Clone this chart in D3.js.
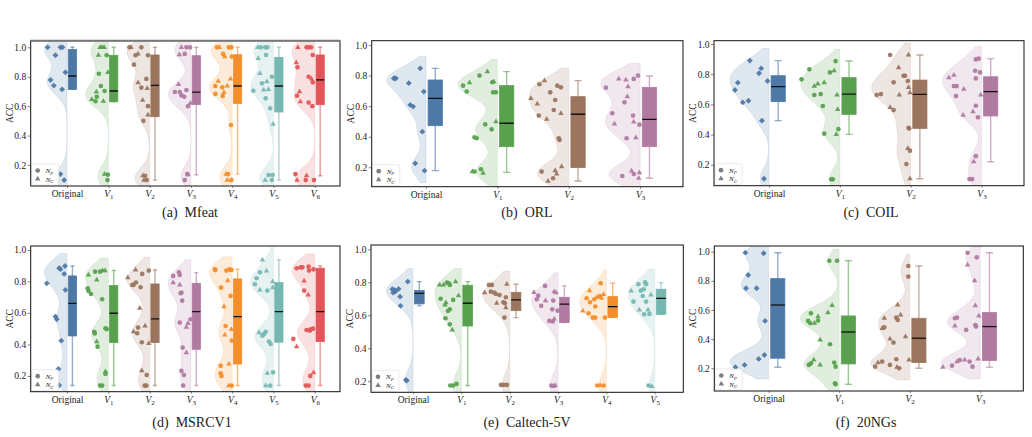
<!DOCTYPE html>
<meta charset="utf-8" />
<script src="https://d3js.org/d3.v7.min.js"></script>
<style>
  body { margin: 0; background: #fff; }
  svg text { font-family: 'Liberation Serif', 'Times New Roman', serif; fill: #222; }
</style>
<div id="chart"></div>
<script>
  // each point: [ACC, marker (0 circle N_P, 1 triangle N_C, 2 diamond), jitter]
  // each box: [low whisker, q1, median, q3, high whisker]
  const mfeatPts = [
    [[1.0,2,-0.47],[0.946,2,-0.28],[1.0,2,-0.16],[1.0,2,-0.11],[0.83,2,-0.04],[0.778,2,-0.4],[0.74,2,-0.32],[0.714,2,-0.12],[0.138,2,-0.16],[0.097,2,-0.07]],
    [[1.0,1,-0.2],[1.0,1,-0.15],[1.0,1,-0.1],[0.946,1,-0.24],[0.946,0,-0.04],[0.82,0,-0.23],[0.83,1,-0.01],[0.737,0,-0.18],[0.696,1,-0.29],[0.703,0,-0.09],[0.664,0,-0.28],[0.646,1,-0.4],[0.633,0,-0.31],[0.633,1,-0.12],[0.138,1,-0.09],[0.134,0,-0.01],[0.097,0,-0.02]],
    [[1.0,0,-0.49],[1.0,1,-0.45],[1.0,0,-0.2],[0.955,1,-0.28],[0.946,0,-0.34],[0.946,0,-0.04],[0.882,0,-0.38],[0.76,1,-0.28],[0.785,0,-0.08],[0.726,0,-0.2],[0.72,1,-0.06],[0.64,1,-0.17],[0.6,0,-0.04],[0.54,1,-0.04],[0.5,0,-0.15],[0.127,1,-0.16],[0.127,0,-0.11],[0.097,1,-0.14],[0.097,0,-0.07]],
    [[1.0,1,-0.23],[1.0,0,-0.11],[1.0,0,-0.02],[0.955,0,-0.15],[0.95,1,-0.28],[0.748,1,-0.3],[0.696,0,-0.39],[0.696,0,-0.27],[0.71,0,-0.11],[0.673,0,-0.23],[0.664,0,-0.16],[0.6,0,-0.07],[0.62,1,-0.01],[0.138,0,-0.09],[0.134,1,-0.07],[0.097,0,-0.15]],
    [[1.0,0,-0.37],[1.0,1,-0.31],[1.0,0,-0.08],[1.0,0,-0.02],[0.955,0,-0.22],[0.937,1,-0.18],[0.937,0,-0.01],[0.737,0,-0.41],[0.77,1,-0.34],[0.785,1,-0.04],[0.728,0,-0.24],[0.737,1,-0.12],[0.683,0,-0.41],[0.694,1,-0.2],[0.669,0,-0.23],[0.472,0,-0.03],[0.138,1,-0.15],[0.138,0,-0.1],[0.097,1,-0.12],[0.097,0,-0.02]],
    [[1.0,1,-0.38],[1.0,0,-0.31],[1.0,0,-0.2],[1.0,0,-0.15],[0.948,0,-0.18],[0.925,1,-0.37],[0.823,1,-0.33],[0.8,0,-0.04],[0.766,1,-0.16],[0.755,0,-0.28],[0.714,1,-0.12],[0.71,1,-0.24],[0.705,0,-0.49],[0.653,0,-0.19],[0.585,0,-0.08],[0.478,1,-0.01],[0.131,0,-0.12],[0.131,0,-0.02],[0.097,1,-0.2],[0.097,0,-0.04]],
    [[1.0,1,-0.41],[1.0,0,-0.2],[1.0,0,-0.15],[1.0,0,-0.09],[0.948,0,-0.05],[0.896,1,-0.45],[0.864,0,-0.42],[0.8,0,-0.15],[0.785,1,-0.08],[0.762,0,-0.05],[0.698,1,-0.37],[0.671,0,-0.43],[0.63,1,-0.35],[0.624,0,-0.15],[0.6,0,-0.06],[0.138,0,-0.47],[0.127,1,-0.2],[0.097,1,-0.43],[0.097,0,-0.22],[0.097,0,-0.02]]
  ];
  const mfeatBox = [[0.714,0.714,0.805,0.986,1.0],[0.63,0.63,0.703,0.946,1.0],[0.097,0.528,0.741,0.948,1.0],[0.134,0.61,0.696,0.943,1.0],[0.138,0.619,0.737,0.95,1.0],[0.097,0.56,0.737,0.932,1.0],[0.127,0.61,0.778,0.948,1.0]];

  const orlPts = [
    [[0.782,2,-0.45],[0.782,2,-0.42],[0.782,2,-0.44],[0.75,2,-0.24],[0.847,2,-0.08],[0.695,2,-0.03],[0.608,2,-0.22],[0.597,2,-0.18],[0.433,2,-0.05],[0.226,2,-0.15],[0.178,2,-0.02]],
    [[0.734,0,-0.48],[0.695,0,-0.43],[0.754,1,-0.39],[0.8,0,-0.25],[0.826,1,-0.14],[0.756,0,-0.07],[0.76,1,-0.05],[0.69,0,-0.06],[0.69,0,-0.02],[0.481,0,-0.17],[0.499,1,-0.02],[0.448,0,-0.08],[0.396,0,-0.32],[0.39,0,-0.29],[0.172,1,-0.35],[0.172,0,-0.32],[0.187,0,-0.23],[0.161,1,-0.2]],
    [[0.651,1,-0.53],[0.743,0,-0.41],[0.767,1,-0.34],[0.69,0,-0.26],[0.734,0,-0.16],[0.723,0,-0.11],[0.64,0,-0.19],[0.614,1,-0.44],[0.575,0,-0.21],[0.553,1,-0.11],[0.538,0,-0.42],[0.514,1,-0.31],[0.39,0,-0.14],[0.379,0,-0.13],[0.172,0,-0.38],[0.178,1,-0.19],[0.156,1,-0.17],[0.204,1,-0.1],[0.128,0,-0.22],[0.11,1,-0.29]],
    [[0.721,0,-0.48],[0.778,1,-0.3],[0.771,1,-0.2],[0.778,0,-0.09],[0.8,0,-0.03],[0.728,1,-0.17],[0.662,1,-0.18],[0.625,0,-0.22],[0.553,0,-0.39],[0.538,0,-0.1],[0.483,1,-0.36],[0.496,1,-0.09],[0.479,0,-0.01],[0.39,0,-0.19],[0.394,1,-0.06],[0.143,0,-0.25],[0.176,1,-0.12],[0.156,0,-0.09],[0.165,1,-0.01],[0.128,1,-0.02]]
  ];
  const orlBox = [[0.178,0.472,0.651,0.771,0.847],[0.167,0.335,0.488,0.734,0.826],[0.11,0.198,0.547,0.662,0.767],[0.128,0.335,0.514,0.723,0.797]];

  const coilPts = [
    [[0.89,2,-0.27],[0.839,2,-0.11],[0.806,2,-0.14],[0.755,2,-0.02],[0.744,2,-0.44],[0.695,2,-0.48],[0.613,2,-0.37],[0.624,2,-0.29],[0.492,2,-0.1],[0.107,2,-0.07]],
    [[0.766,0,-0.54],[0.832,0,-0.43],[0.721,1,-0.36],[0.735,1,-0.31],[0.662,0,-0.36],[0.668,0,-0.27],[0.744,1,-0.22],[0.812,0,-0.14],[0.823,1,-0.08],[0.887,0,-0.06],[0.589,0,-0.24],[0.662,1,-0.04],[0.567,1,-0.03],[0.436,0,-0.02],[0.406,0,-0.22],[0.401,1,-0.05],[0.103,0,-0.12],[0.103,0,-0.1]],
    [[0.662,0,-0.48],[0.668,0,-0.42],[0.927,0,-0.29],[0.927,1,-0.03],[0.843,1,-0.17],[0.79,0,-0.1],[0.79,0,-0.08],[0.746,0,-0.24],[0.755,0,-0.04],[0.713,1,-0.03],[0.677,1,-0.01],[0.662,1,-0.16],[0.58,1,-0.29],[0.562,0,-0.24],[0.445,0,-0.03],[0.44,0,-0.02],[0.308,1,-0.04],[0.293,0,-0.01],[0.204,0,-0.06],[0.107,1,-0.01]],
    [[0.777,1,-0.46],[0.794,1,-0.39],[0.721,0,-0.39],[0.721,0,-0.35],[0.655,0,-0.36],[0.7,1,-0.25],[0.529,1,-0.26],[0.898,0,-0.08],[0.903,0,-0.04],[0.823,0,-0.09],[0.812,0,-0.02],[0.772,0,-0.08],[0.662,1,-0.01],[0.591,0,-0.08],[0.551,1,-0.12],[0.514,0,-0.05],[0.257,0,-0.08],[0.22,1,-0.11],[0.105,0,-0.17],[0.105,0,-0.13]]
  ];
  const coilBox = [[0.492,0.618,0.717,0.79,0.89],[0.401,0.534,0.668,0.777,0.887],[0.107,0.441,0.666,0.761,0.927],[0.22,0.523,0.684,0.783,0.903]];

  const msrcPts = [
    [[0.788,2,-0.49],[0.884,2,-0.19],[0.878,2,-0.16],[0.898,2,-0.05],[0.848,2,-0.07],[0.746,2,-0.04],[0.577,2,-0.28],[0.56,2,-0.25],[0.424,2,-0.14],[0.244,2,-0.21],[0.141,2,-0.19]],
    [[0.841,1,-0.48],[0.862,0,-0.32],[0.862,0,-0.2],[0.869,1,-0.14],[0.869,1,-0.08],[0.81,1,-0.28],[0.757,0,-0.5],[0.74,0,-0.48],[0.72,0,-0.42],[0.687,0,-0.15],[0.503,0,-0.07],[0.497,0,-0.04],[0.48,0,-0.34],[0.47,0,-0.33],[0.418,1,-0.28],[0.386,0,-0.26],[0.228,1,-0.07],[0.213,0,-0.07],[0.139,0,-0.2],[0.139,0,-0.15]],
    [[0.824,1,-0.53],[0.778,0,-0.42],[0.778,0,-0.39],[0.793,0,-0.33],[0.873,1,-0.34],[0.848,0,-0.18],[0.869,0,-0.02],[0.763,0,-0.22],[0.63,1,-0.24],[0.507,0,-0.28],[0.517,1,-0.11],[0.481,1,-0.39],[0.471,0,-0.3],[0.414,0,-0.19],[0.407,1,-0.02],[0.234,1,-0.19],[0.206,0,-0.07],[0.139,0,-0.12],[0.139,0,-0.08]],
    [[0.835,0,-0.43],[0.858,0,-0.29],[0.841,0,-0.27],[0.793,1,-0.43],[0.778,1,-0.27],[0.729,0,-0.23],[0.725,0,-0.25],[0.678,0,-0.21],[0.539,0,-0.27],[0.509,1,-0.11],[0.534,1,-0.07],[0.56,0,-0.01],[0.38,0,-0.2],[0.348,1,-0.11],[0.232,0,-0.23],[0.206,0,-0.17],[0.139,0,-0.19]],
    [[0.877,0,-0.42],[0.872,0,-0.41],[0.761,0,-0.27],[0.869,0,-0.14],[0.877,0,-0.07],[0.873,0,-0.02],[0.805,1,-0.11],[0.64,1,-0.2],[0.708,0,-0.04],[0.517,0,-0.16],[0.496,1,-0.02],[0.461,1,-0.18],[0.424,0,-0.01],[0.276,1,-0.08],[0.264,0,-0.28],[0.217,0,-0.28],[0.2,0,-0.26],[0.139,1,-0.08],[0.139,0,-0.01]],
    [[0.937,1,-0.27],[0.782,0,-0.45],[0.82,0,-0.41],[0.858,0,-0.33],[0.867,1,-0.17],[0.746,1,-0.33],[0.742,0,-0.15],[0.761,1,-0.02],[0.799,1,-0.02],[0.475,1,-0.35],[0.456,0,-0.27],[0.466,0,-0.23],[0.48,0,-0.19],[0.418,0,-0.11],[0.403,0,-0.07],[0.217,1,-0.15],[0.223,0,-0.01],[0.139,1,-0.19],[0.139,0,-0.08]],
    [[0.884,0,-0.44],[0.889,0,-0.34],[0.89,0,-0.3],[0.894,0,-0.15],[0.869,0,-0.14],[0.877,0,-0.03],[0.803,1,-0.26],[0.742,0,-0.26],[0.714,1,-0.16],[0.492,0,-0.2],[0.496,0,-0.1],[0.5,0,-0.04],[0.488,0,-0.12],[0.435,0,-0.52],[0.386,1,-0.44],[0.221,1,-0.03],[0.2,0,-0.11],[0.139,0,-0.22],[0.139,0,-0.15]]
  ];
  const msrcBox = [[0.139,0.454,0.661,0.835,0.898],[0.139,0.412,0.598,0.774,0.869],[0.139,0.412,0.562,0.784,0.873],[0.139,0.369,0.608,0.788,0.856],[0.139,0.276,0.577,0.816,0.877],[0.139,0.414,0.608,0.793,0.937],[0.139,0.418,0.608,0.884,0.898]];

  const caltechPts = [
    [[0.758,2,-0.43],[0.737,2,-0.41],[0.754,2,-0.39],[0.76,2,-0.3],[0.745,2,-0.36],[0.804,2,-0.11],[0.713,2,-0.27],[0.657,2,-0.26],[0.208,2,-0.15],[0.204,2,-0.13]],
    [[0.784,1,-0.45],[0.784,1,-0.37],[0.798,0,-0.3],[0.784,0,-0.24],[0.794,0,-0.26],[0.804,1,-0.12],[0.7,0,-0.43],[0.677,1,-0.32],[0.663,1,-0.34],[0.693,0,-0.17],[0.719,1,-0.06],[0.626,0,-0.28],[0.636,0,-0.24],[0.582,0,-0.33],[0.545,0,-0.24],[0.511,1,-0.19],[0.174,0,-0.23],[0.174,0,-0.17],[0.184,0,-0.1]],
    [[0.737,1,-0.52],[0.784,0,-0.43],[0.784,0,-0.37],[0.743,0,-0.39],[0.737,0,-0.32],[0.727,1,-0.27],[0.723,0,-0.21],[0.709,0,-0.08],[0.788,1,-0.06],[0.679,0,-0.13],[0.673,1,-0.27],[0.673,0,-0.1],[0.646,1,-0.08],[0.586,0,-0.11],[0.178,0,-0.18],[0.178,0,-0.13],[0.178,0,-0.06]],
    [[0.739,1,-0.5],[0.719,0,-0.41],[0.697,0,-0.44],[0.657,0,-0.35],[0.778,0,-0.27],[0.689,1,-0.26],[0.689,0,-0.1],[0.743,1,-0.08],[0.737,1,-0.04],[0.636,0,-0.12],[0.628,0,-0.01],[0.566,0,-0.18],[0.562,0,-0.11],[0.578,1,-0.08],[0.174,0,-0.14],[0.168,1,-0.1],[0.174,1,-0.06]],
    [[0.626,1,-0.49],[0.612,0,-0.37],[0.586,0,-0.28],[0.586,0,-0.23],[0.586,0,-0.03],[0.749,1,-0.35],[0.703,0,-0.41],[0.679,0,-0.34],[0.709,1,-0.2],[0.717,0,-0.14],[0.703,1,-0.1],[0.697,0,-0.25],[0.727,1,-0.06],[0.794,0,-0.12],[0.653,0,-0.23],[0.174,0,-0.19],[0.174,1,-0.13],[0.174,0,-0.06]],
    [[0.747,1,-0.49],[0.683,0,-0.44],[0.788,0,-0.34],[0.749,0,-0.29],[0.758,0,-0.23],[0.8,0,-0.2],[0.788,0,-0.18],[0.632,1,-0.32],[0.717,0,-0.25],[0.683,0,-0.18],[0.632,1,-0.14],[0.606,0,-0.22],[0.608,0,-0.11],[0.723,1,-0.08],[0.174,0,-0.13],[0.168,1,-0.06]]
  ];
  const caltechBox = [[0.657,0.669,0.733,0.75,0.804],[0.174,0.535,0.673,0.782,0.804],[0.586,0.628,0.693,0.739,0.788],[0.556,0.556,0.667,0.709,0.778],[0.586,0.586,0.653,0.713,0.794],[0.606,0.606,0.703,0.758,0.798]];

  const ngPts = [
    [[0.993,2,-0.33],[0.989,2,-0.07],[0.84,2,-0.29],[0.749,2,-0.32],[0.749,2,-0.17],[0.525,2,-0.05],[0.291,2,-0.06],[0.264,2,-0.14],[0.223,2,-0.34],[0.207,2,-0.47]],
    [[0.938,0,-0.14],[0.938,0,-0.03],[0.577,0,-0.4],[0.525,0,-0.44],[0.509,0,-0.41],[0.554,1,-0.3],[0.527,0,-0.3],[0.509,1,-0.35],[0.582,1,-0.16],[0.632,1,-0.1],[0.394,1,-0.27],[0.365,0,-0.13],[0.257,1,-0.36],[0.234,0,-0.4],[0.223,0,-0.43],[0.223,1,-0.27],[0.239,0,-0.07],[0.211,0,-0.05],[0.097,0,-0.06],[0.09,0,-0.05]],
    [[0.902,0,-0.02],[0.829,0,-0.02],[0.634,1,-0.17],[0.566,1,-0.13],[0.547,0,-0.19],[0.531,0,-0.17],[0.543,1,-0.36],[0.474,1,-0.39],[0.481,0,-0.36],[0.401,1,-0.28],[0.376,0,-0.23],[0.417,1,-0.06],[0.211,0,-0.49],[0.239,1,-0.45],[0.246,0,-0.39],[0.223,0,-0.28],[0.262,0,-0.19],[0.207,1,-0.18],[0.2,0,-0.15],[0.257,1,-0.01]],
    [[0.207,1,-0.53],[0.218,0,-0.4],[0.246,1,-0.33],[0.257,0,-0.29],[0.257,1,-0.22],[0.246,0,-0.15],[0.211,0,-0.11],[0.264,1,-0.03],[0.49,1,-0.36],[0.543,0,-0.36],[0.547,0,-0.33],[0.463,0,-0.2],[0.497,0,-0.07],[0.486,0,-0.06],[0.559,1,-0.02],[0.63,1,-0.07],[0.801,1,-0.08],[0.909,1,-0.18],[0.993,0,-0.18],[0.961,0,-0.05]]
  ];
  const ngBox = [[0.207,0.269,0.634,0.815,0.993],[0.09,0.23,0.449,0.559,0.938],[0.2,0.239,0.406,0.543,0.902],[0.207,0.253,0.486,0.582,0.993]];

  const catNames = ['Original', 'V1', 'V2', 'V3', 'V4', 'V5', 'V6'];
  const yTicks = [0.2, 0.4, 0.6, 0.8, 1.0];
  const colors = ['#4e79a7', '#59a14f', '#9c755f', '#b07aa1', '#f28e2b', '#76b7b2', '#e15759'];

  const panels = [
    { pts: mfeatPts, box: mfeatBox, caption: '(a)  Mfeat', l: 30.7, r: 340, t: 40.7, b: 186, yd: [0.057, 1.045], xd: [-0.88, 6.61], cx: 190, cy: 217 },
    { pts: orlPts, box: orlBox, caption: '(b)  ORL', l: 371.7, r: 683, t: 40.7, b: 186.7, yd: [0.073, 1.028], xd: [-0.76, 3.6], cx: 527, cy: 217 },
    { pts: coilPts, box: coilBox, caption: '(c)  COIL', l: 714, r: 1024, t: 40.7, b: 185.7, yd: [0.061, 1.022], xd: [-0.776, 3.6], cx: 871, cy: 217 },
    { pts: msrcPts, box: msrcBox, caption: '(d)  MSRCV1', l: 30.7, r: 340, t: 246, b: 391.7, yd: [0.1, 1.025], xd: [-0.88, 6.61], cx: 192, cy: 427 },
    { pts: caltechPts, box: caltechBox, caption: '(e)  Caltech-5V', l: 371, r: 683.3, t: 245, b: 392.3, yd: [0.133, 1.026], xd: [-0.87, 5.59], cx: 527, cy: 427 },
    { pts: ngPts, box: ngBox, caption: '(f)  20NGs', l: 714.3, r: 1023.3, t: 246, b: 391, yd: [0.044, 1.039], xd: [-0.77, 3.61], cx: 866, cy: 427 }
  ];

  const svg = d3.select('#chart').append('svg').attr('width', 1032).attr('height', 437);

  const bw = 0.07, ext = 0.08, violinW = 0.55;
  const boxGap = 0.03, boxW = 0.2;

  function violinPath(vals, x, y, c) {
    const lo = d3.min(vals) - ext, hi = d3.max(vals) + ext;
    const ys = d3.range(0, 101).map((i) => lo + ((hi - lo) * i) / 100);
    const dens = ys.map((t) => d3.mean(vals, (v) => Math.exp(-0.5 * ((t - v) / bw) ** 2)));
    const m = d3.max(dens);
    const pts = ys.map((t, i) => [x(c - (dens[i] / m) * violinW), y(t)]);
    return d3.line()([[x(c), y(lo)], ...pts, [x(c), y(hi)]]) + 'Z';
  }

  const sym = [
    d3.symbol().type(d3.symbolCircle).size(17),
    d3.symbol().type(d3.symbolTriangle).size(13),
    d3.symbol().type(d3.symbolSquare).size(17)
  ];

  panels.forEach(function (p, pi) {
    const n = p.pts.length;
    const x = d3.scaleLinear().domain(p.xd).range([p.l, p.r]);
    const y = d3.scaleLinear().domain(p.yd).range([p.b, p.t]);
    const g = svg.append('g');

    g.append('clipPath').attr('id', 'clip' + pi)
      .append('rect').attr('x', p.l).attr('y', p.t).attr('width', p.r - p.l).attr('height', p.b - p.t);
    const plot = g.append('g').attr('clip-path', `url(#clip${pi})`);

    // violins
    p.pts.forEach(function (arr, i) {
      plot.append('path')
        .attr('d', violinPath(arr.map((d) => d[0]), x, y, i))
        .attr('fill', colors[i]).attr('fill-opacity', 0.18)
        .attr('stroke', colors[i]).attr('stroke-opacity', 0.15).attr('stroke-width', 0.8);
    });

    // boxes
    p.box.forEach(function (bx, i) {
      const x0 = x(i + boxGap), x1 = x(i + boxGap + boxW), xm = (x0 + x1) / 2, cap = (x1 - x0) / 4;
      const wg = plot.append('g').attr('stroke', colors[i]).attr('stroke-opacity', 0.6).attr('stroke-width', 1.4);
      wg.append('line').attr('x1', xm).attr('x2', xm).attr('y1', y(bx[4])).attr('y2', y(bx[3]));
      wg.append('line').attr('x1', xm).attr('x2', xm).attr('y1', y(bx[1])).attr('y2', y(bx[0]));
      wg.append('line').attr('x1', xm - cap).attr('x2', xm + cap).attr('y1', y(bx[4])).attr('y2', y(bx[4]));
      wg.append('line').attr('x1', xm - cap).attr('x2', xm + cap).attr('y1', y(bx[0])).attr('y2', y(bx[0]));
      plot.append('rect')
        .attr('x', x0).attr('width', x1 - x0)
        .attr('y', y(bx[3])).attr('height', y(bx[1]) - y(bx[3]))
        .attr('fill', colors[i]).attr('stroke', colors[i]).attr('stroke-width', 0.8);
      plot.append('line')
        .attr('x1', x0).attr('x2', x1).attr('y1', y(bx[2])).attr('y2', y(bx[2]))
        .attr('stroke', '#111').attr('stroke-width', 1.3);
    });

    // points
    p.pts.forEach(function (arr, i) {
      plot.selectAll(null).data(arr).join('path')
        .attr('d', (d) => sym[d[1]]())
        .attr('transform', (d) => `translate(${x(i + d[2])},${y(d[0])})` + (d[1] === 2 ? ' rotate(45)' : ''))
        .attr('fill', colors[i]).attr('fill-opacity', 0.95);
    });

    // legend
    const lg = g.append('g').attr('transform', `translate(${p.l + 1},${p.b - 22})`);
    lg.append('rect').attr('width', 27).attr('height', 21).attr('rx', 1.5)
      .attr('fill', '#fff').attr('fill-opacity', 0.8).attr('stroke', '#ddd').attr('stroke-width', 0.6);
    ['P', 'C'].forEach(function (s, k) {
      lg.append('path').attr('d', sym[k]()).attr('transform', `translate(6,${6.5 + k * 8.5})`).attr('fill', '#808080');
      const t = lg.append('text').attr('x', 14).attr('y', 9 + k * 8.5).style('font-size', '7px').style('font-style', 'italic').attr('fill', '#444');
      t.append('tspan').text('N');
      t.append('tspan').attr('dy', 1.5).style('font-size', '5px').text(s);
    });

    // frame
    g.append('rect').attr('x', p.l).attr('y', p.t).attr('width', p.r - p.l).attr('height', p.b - p.t)
      .attr('fill', 'none').attr('stroke', '#111').attr('stroke-width', 1);
    if (pi === 0) {
      g.append('line').attr('x1', p.l).attr('x2', p.r).attr('y1', p.t).attr('y2', p.t)
        .attr('stroke', '#777').attr('stroke-width', 2);
    }

    // y axis
    const ya = g.append('g').attr('transform', `translate(${p.l},0)`)
      .call(d3.axisLeft(y).tickValues(yTicks).tickFormat(d3.format('.1f')).tickSize(3).tickPadding(1.5));
    ya.select('.domain').remove();
    ya.selectAll('text').style('font-size', '9.5px').attr('fill', '#222');
    ya.selectAll('line').attr('stroke', '#333').attr('stroke-width', 0.6);

    // x axis
    const xa = g.append('g').attr('transform', `translate(0,${p.b})`)
      .call(d3.axisBottom(x).tickValues(d3.range(n)).tickFormat('').tickSize(2));
    xa.select('.domain').remove();
    xa.selectAll('line').attr('stroke', '#333').attr('stroke-width', 0.6);
    xa.selectAll('.tick').append('text').attr('y', 11).attr('fill', '#222')
      .style('font-size', '9.5px').attr('text-anchor', 'middle')
      .each(function (d) {
        const t = d3.select(this), name = catNames[d];
        if (d === 0) { t.text(name); return; }
        t.append('tspan').style('font-style', 'italic').text(name[0]);
        t.append('tspan').attr('dy', 2).style('font-size', '7px').text(name.slice(1));
      });

    // y label
    g.append('text').attr('transform', `translate(${p.l - 18},${(p.t + p.b) / 2}) rotate(-90)`)
      .attr('text-anchor', 'middle').style('font-size', '9.5px').text('ACC');

    // caption
    g.append('text').attr('x', p.cx).attr('y', p.cy).attr('text-anchor', 'middle')
      .style('font-size', '14px').style('white-space', 'pre').text(p.caption);
  });
</script>
